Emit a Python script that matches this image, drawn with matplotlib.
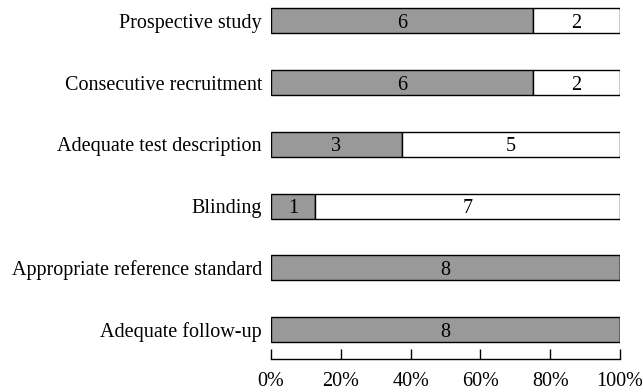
import matplotlib.pyplot as plt
from matplotlib.ticker import PercentFormatter

# Quality criteria and study counts
criteria = ['Prospective study', 'Consecutive recruitment', 'Adequate test description',
            'Blinding', 'Appropriate reference standard', 'Adequate follow-up']
yes_counts = [6, 6, 3, 1, 8, 8]
no_counts = [2, 2, 5, 7, 0, 0]
total = 8

plt.rcParams['font.family'] = ['Liberation Serif', 'DejaVu Serif']
fs = 14.5

fig = plt.figure(figsize=(6.43, 3.92), dpi=100)
ax = fig.add_axes([271 / 643, 33 / 392, (620 - 271) / 643, 359 / 392])

ypos = list(range(len(criteria)))[::-1]
yes_pct = [100 * v / total for v in yes_counts]
no_pct = [100 * v / total for v in no_counts]

ax.barh(ypos, yes_pct, height=0.405, color='#999999', edgecolor='black', linewidth=1)
ax.barh(ypos, no_pct, left=yes_pct, height=0.405, color='white', edgecolor='black', linewidth=1)

# counts written inside each segment
for y, a, b, pa, pb in zip(ypos, yes_counts, no_counts, yes_pct, no_pct):
    if a:
        ax.text(pa / 2, y, str(a), ha='center', va='center_baseline', fontsize=fs)
    if b:
        ax.text(pa + pb / 2, y, str(b), ha='center', va='center_baseline', fontsize=fs)

ax.set_xlim(0, 100)
ax.set_ylim(-0.478, 5.34)
ax.set_yticks(ypos)
ax.set_yticklabels(criteria, fontsize=fs)
ax.tick_params(axis='y', length=0, pad=6.5)
ax.set_xticks([0, 20, 40, 60, 80, 100])
ax.xaxis.set_major_formatter(PercentFormatter(decimals=0))
ax.tick_params(axis='x', direction='in', length=7, width=1, labelsize=fs, pad=9)
for s in ['top', 'right', 'left']:
    ax.spines[s].set_visible(False)
ax.spines['bottom'].set_linewidth(1)

fig.savefig('out.png', dpi=100)
